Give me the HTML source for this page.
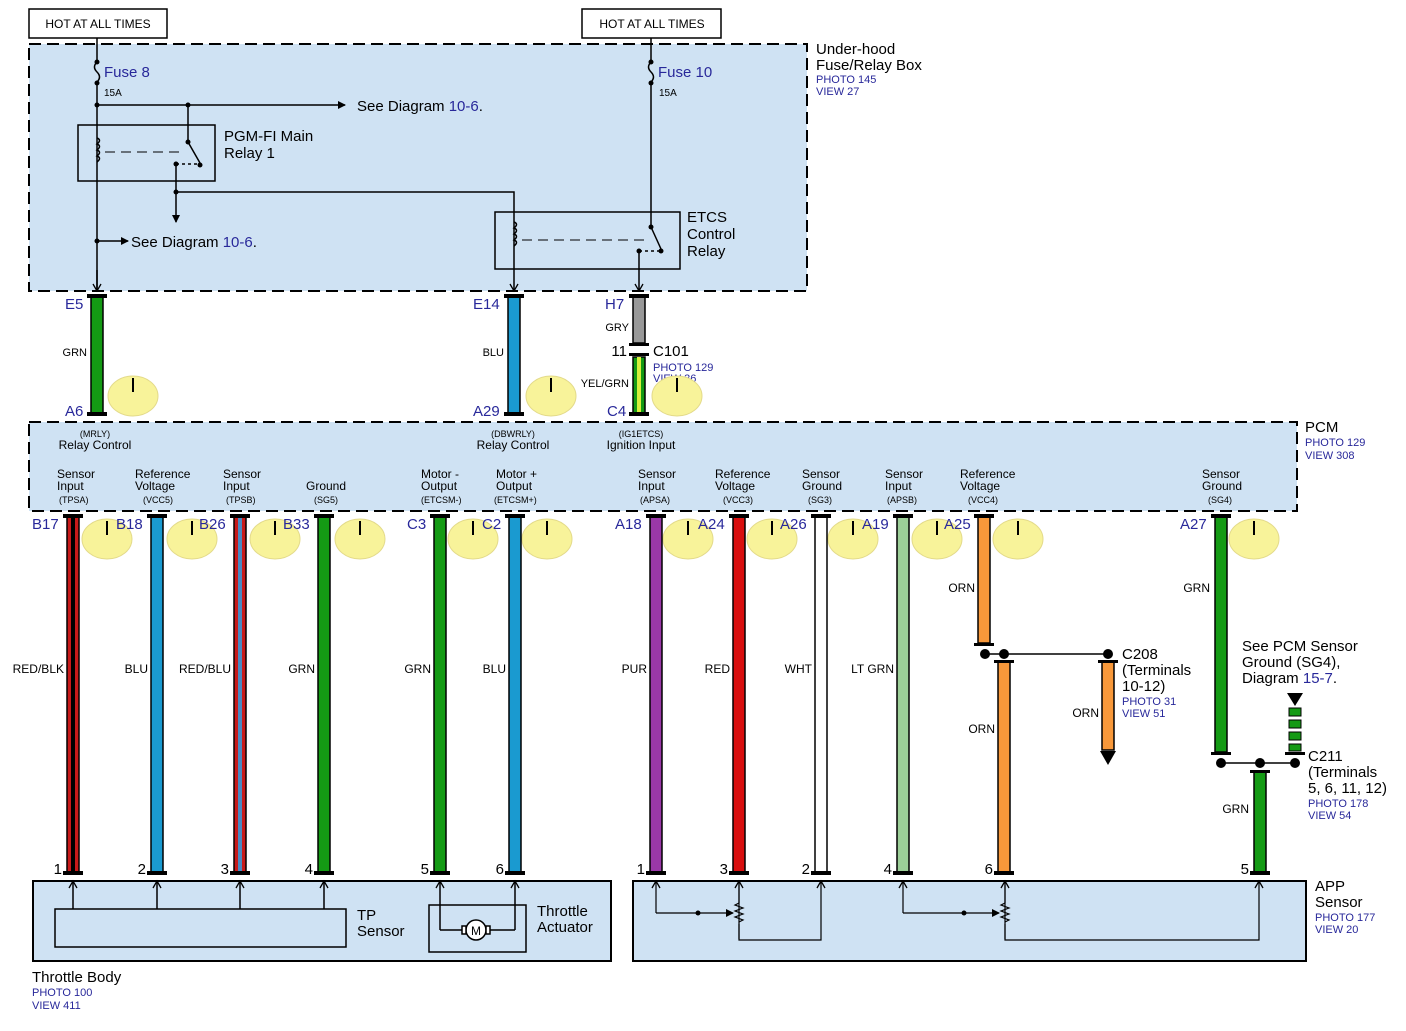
<!DOCTYPE html>
<html><head><meta charset="utf-8"><style>
html,body{margin:0;padding:0;background:#fff}
svg{display:block;font-family:"Liberation Sans",sans-serif}
.b{fill:#28289a}
</style></head><body>
<svg width="1406" height="1031" viewBox="0 0 1406 1031" xmlns="http://www.w3.org/2000/svg">
<defs>
<marker id="ar" markerWidth="8" markerHeight="8" refX="7" refY="4" orient="auto" markerUnits="userSpaceOnUse"><path d="M0,0 L8,4 L0,8 z" fill="#000"/></marker>
<marker id="ao" markerWidth="10" markerHeight="10" refX="8" refY="5" orient="auto" markerUnits="userSpaceOnUse"><path d="M1,1 L8,5 L1,9" fill="none" stroke="#000" stroke-width="1.3"/></marker>
</defs>

<rect x="29" y="9" width="138" height="29" fill="#fff" stroke="#000" stroke-width="1.5"/>
<text x="98" y="28" font-size="12" text-anchor="middle">HOT AT ALL TIMES</text>
<rect x="582" y="9" width="139" height="29" fill="#fff" stroke="#000" stroke-width="1.5"/>
<text x="652" y="28" font-size="12" text-anchor="middle">HOT AT ALL TIMES</text>

<rect x="29" y="44" width="778" height="247" fill="#cfe2f3" stroke="#000" stroke-width="2" stroke-dasharray="12,6"/>
<text x="816" y="54" font-size="15">Under-hood</text>
<text x="816" y="70" font-size="15">Fuse/Relay Box</text>
<text x="816" y="83" font-size="11" class="b">PHOTO 145</text>
<text x="816" y="95" font-size="11" class="b">VIEW 27</text>

<g stroke="#000" stroke-width="1.5" fill="none">
<path d="M97 38 V62 M97 62 q-5 5 0 10 q5 5 0 10 M97 82 V289"/>
<path d="M97 105 H345" marker-end="url(#ar)"/>
<path d="M188 105 V142"/>
<path d="M188 142 L200 163"/>
<path d="M176 164 H200" stroke-dasharray="3,3"/>
<path d="M176 164 V222" marker-end="url(#ar)"/>
<path d="M176 192 H514 V291" marker-end="url(#ao)"/>
<path d="M97 241 H128" marker-end="url(#ar)"/>
<path d="M97 270 V291" marker-end="url(#ao)"/>
<rect x="78" y="125" width="137" height="56"/>
<path d="M97 138 q5 2 0 6 q5 2 0 6 q5 2 0 6 q5 2 0 6" />
<path d="M105 152 H185" stroke-dasharray="10,6" stroke-width="1"/>
<path d="M651 38 V62 M651 62 q-5 5 0 10 q5 5 0 10 M651 82 V227"/>
<path d="M651 227 L661 249"/>
<path d="M639 251 H661" stroke-dasharray="3,3"/>
<path d="M639 251 V291" marker-end="url(#ao)"/>
<rect x="495" y="212" width="185" height="57"/>
<path d="M514 222 q5 2 0 6 q5 2 0 6 q5 2 0 6 q5 2 0 6"/>
<path d="M522 240 H650" stroke-dasharray="10,6" stroke-width="1"/>
</g>
<g fill="#000">
<circle cx="97" cy="62" r="2.5"/><circle cx="97" cy="83" r="2.5"/><circle cx="97" cy="105" r="2.5"/><circle cx="188" cy="105" r="2.5"/>
<circle cx="188" cy="142" r="2.5"/><circle cx="200" cy="165" r="2.5"/><circle cx="176" cy="164" r="2.5"/><circle cx="176" cy="192" r="2.5"/><circle cx="97" cy="241" r="2.5"/>
<circle cx="651" cy="62" r="2.5"/><circle cx="651" cy="83" r="2.5"/><circle cx="651" cy="227" r="2.5"/><circle cx="661" cy="251" r="2.5"/><circle cx="639" cy="251" r="2.5"/>
</g>
<text x="104" y="77" font-size="15" class="b">Fuse 8</text>
<text x="104" y="96" font-size="10">15A</text>
<text x="658" y="77" font-size="15" class="b">Fuse 10</text>
<text x="659" y="96" font-size="10">15A</text>
<text x="357" y="111" font-size="15">See Diagram <tspan class="b">10-6</tspan>.</text>
<text x="131" y="247" font-size="15">See Diagram <tspan class="b">10-6</tspan>.</text>
<text x="224" y="141" font-size="15">PGM-FI Main</text>
<text x="224" y="158" font-size="15">Relay 1</text>
<text x="687" y="222" font-size="15">ETCS</text>
<text x="687" y="239" font-size="15">Control</text>
<text x="687" y="256" font-size="15">Relay</text>

<g stroke="#000" stroke-width="1.5">
<rect x="91" y="297" width="12" height="117" fill="#149a14"/>
<rect x="508" y="297" width="12" height="117" fill="#1a9ad0"/>
<rect x="633" y="297" width="12" height="46" fill="#999"/>
<rect x="633" y="357" width="12" height="57" fill="#149a14"/>
</g>
<rect x="637" y="357" width="4" height="57" fill="#d8ef3c"/>
<g fill="#000">
<rect x="87" y="294" width="20" height="4"/><rect x="87" y="412" width="20" height="4"/>
<rect x="504" y="294" width="20" height="4"/><rect x="504" y="412" width="20" height="4"/>
<rect x="629" y="294" width="20" height="4"/><rect x="629" y="343" width="20" height="3"/><rect x="629" y="353" width="20" height="3"/><rect x="629" y="412" width="20" height="4"/>
</g>
<text x="65" y="309" font-size="15" class="b">E5</text>
<text x="473" y="309" font-size="15" class="b">E14</text>
<text x="605" y="309" font-size="15" class="b">H7</text>
<text x="65" y="416" font-size="15" class="b">A6</text>
<text x="473" y="416" font-size="15" class="b">A29</text>
<text x="607" y="416" font-size="15" class="b">C4</text>
<text x="87" y="356" font-size="11" text-anchor="end">GRN</text>
<text x="504" y="356" font-size="11" text-anchor="end">BLU</text>
<text x="629" y="331" font-size="11" text-anchor="end">GRY</text>
<text x="629" y="387" font-size="11" text-anchor="end">YEL/GRN</text>
<text x="627" y="356" font-size="15" text-anchor="end">11</text>
<text x="653" y="356" font-size="15">C101</text>
<text x="653" y="371" font-size="11" class="b">PHOTO 129</text>
<text x="653" y="382" font-size="11" class="b">VIEW 36</text>

<g fill="#f8f39a" stroke="#e3da8a">
<ellipse cx="133" cy="396" rx="25" ry="20"/><ellipse cx="551" cy="396" rx="25" ry="20"/><ellipse cx="677" cy="396" rx="25" ry="20"/>
<ellipse cx="107" cy="539" rx="25" ry="20"/><ellipse cx="192" cy="539" rx="25" ry="20"/><ellipse cx="275" cy="539" rx="25" ry="20"/><ellipse cx="360" cy="539" rx="25" ry="20"/>
<ellipse cx="473" cy="539" rx="25" ry="20"/><ellipse cx="547" cy="539" rx="25" ry="20"/>
<ellipse cx="688" cy="539" rx="25" ry="20"/><ellipse cx="772" cy="539" rx="25" ry="20"/><ellipse cx="853" cy="539" rx="25" ry="20"/><ellipse cx="937" cy="539" rx="25" ry="20"/><ellipse cx="1018" cy="539" rx="25" ry="20"/><ellipse cx="1254" cy="539" rx="25" ry="20"/>
</g>
<g stroke="#000" stroke-width="2">
<path d="M133 378 V392 M551 378 V392 M677 378 V392"/>
<path d="M107 521 V535 M192 521 V535 M275 521 V535 M360 521 V535 M473 521 V535 M547 521 V535 M688 521 V535 M772 521 V535 M853 521 V535 M937 521 V535 M1018 521 V535 M1254 521 V535"/>
</g>

<rect x="29" y="422" width="1268" height="89" fill="#cfe2f3" stroke="#000" stroke-width="2" stroke-dasharray="12,6"/>
<text x="1305" y="432" font-size="15">PCM</text>
<text x="1305" y="446" font-size="11" class="b">PHOTO 129</text>
<text x="1305" y="459" font-size="11" class="b">VIEW 308</text>
<g font-size="12" text-anchor="middle">
<text x="95" y="437" font-size="9">(MRLY)</text><text x="95" y="449">Relay Control</text>
<text x="513" y="437" font-size="9">(DBWRLY)</text><text x="513" y="449">Relay Control</text>
<text x="641" y="437" font-size="9">(IG1ETCS)</text><text x="641" y="449">Ignition Input</text>
</g>
<g font-size="12">
<text x="57" y="478">Sensor</text><text x="57" y="490">Input</text><text x="59" y="503" font-size="9">(TPSA)</text>
<text x="135" y="478">Reference</text><text x="135" y="490">Voltage</text><text x="143" y="503" font-size="9">(VCC5)</text>
<text x="223" y="478">Sensor</text><text x="223" y="490">Input</text><text x="226" y="503" font-size="9">(TPSB)</text>
<text x="306" y="490">Ground</text><text x="314" y="503" font-size="9">(SG5)</text>
<text x="421" y="478">Motor -</text><text x="421" y="490">Output</text><text x="421" y="503" font-size="9">(ETCSM-)</text>
<text x="496" y="478">Motor +</text><text x="496" y="490">Output</text><text x="494" y="503" font-size="9">(ETCSM+)</text>
<text x="638" y="478">Sensor</text><text x="638" y="490">Input</text><text x="640" y="503" font-size="9">(APSA)</text>
<text x="715" y="478">Reference</text><text x="715" y="490">Voltage</text><text x="723" y="503" font-size="9">(VCC3)</text>
<text x="802" y="478">Sensor</text><text x="802" y="490">Ground</text><text x="808" y="503" font-size="9">(SG3)</text>
<text x="885" y="478">Sensor</text><text x="885" y="490">Input</text><text x="887" y="503" font-size="9">(APSB)</text>
<text x="960" y="478">Reference</text><text x="960" y="490">Voltage</text><text x="968" y="503" font-size="9">(VCC4)</text>
<text x="1202" y="478">Sensor</text><text x="1202" y="490">Ground</text><text x="1208" y="503" font-size="9">(SG4)</text>
</g>

<g stroke="#000" stroke-width="1.5">
<rect x="67" y="517" width="12" height="355" fill="#c81a1a"/>
<rect x="151" y="517" width="12" height="355" fill="#1a9ad0"/>
<rect x="234" y="517" width="12" height="355" fill="#c81a1a"/>
<rect x="318" y="517" width="12" height="355" fill="#149a14"/>
<rect x="434" y="517" width="12" height="355" fill="#149a14"/>
<rect x="509" y="517" width="12" height="355" fill="#1a9ad0"/>
<rect x="650" y="517" width="12" height="355" fill="#9a38a8"/>
<rect x="733" y="517" width="12" height="355" fill="#d80e0e"/>
<rect x="815" y="517" width="12" height="355" fill="#fff"/>
<rect x="897" y="517" width="12" height="355" fill="#9ccf98"/>
<rect x="978" y="517" width="12" height="126" fill="#f8983a"/>
<rect x="998" y="662" width="12" height="210" fill="#f8983a"/>
<rect x="1102" y="662" width="12" height="88" fill="#f8983a"/>
<rect x="1215" y="517" width="12" height="235" fill="#149a14"/>
<rect x="1254" y="772" width="12" height="100" fill="#149a14"/>
</g>
<rect x="71" y="518" width="4" height="353" fill="#000"/>
<rect x="238" y="518" width="4" height="353" fill="#4a88c0"/>
<g fill="#149a14" stroke="#000" stroke-width="1">
<rect x="1289" y="708" width="12" height="8"/><rect x="1289" y="720" width="12" height="8"/><rect x="1289" y="732" width="12" height="8"/><rect x="1289" y="744" width="12" height="7"/>
</g>
<path d="M1287 693 H1303 L1295 706 z" fill="#000"/>
<path d="M1100 751 H1116 L1108 765 z" fill="#000"/>
<g fill="#000">
<rect x="63" y="514" width="20" height="4"/><rect x="147" y="514" width="20" height="4"/><rect x="230" y="514" width="20" height="4"/><rect x="314" y="514" width="20" height="4"/>
<rect x="430" y="514" width="20" height="4"/><rect x="505" y="514" width="20" height="4"/><rect x="646" y="514" width="20" height="4"/><rect x="729" y="514" width="20" height="4"/>
<rect x="811" y="514" width="20" height="4"/><rect x="893" y="514" width="20" height="4"/><rect x="974" y="514" width="20" height="4"/><rect x="1211" y="514" width="20" height="4"/>
<rect x="63" y="871" width="20" height="4"/><rect x="147" y="871" width="20" height="4"/><rect x="230" y="871" width="20" height="4"/><rect x="314" y="871" width="20" height="4"/>
<rect x="430" y="871" width="20" height="4"/><rect x="505" y="871" width="20" height="4"/><rect x="646" y="871" width="20" height="4"/><rect x="729" y="871" width="20" height="4"/>
<rect x="811" y="871" width="20" height="4"/><rect x="893" y="871" width="20" height="4"/><rect x="994" y="871" width="20" height="4"/><rect x="1250" y="871" width="20" height="4"/>
<rect x="974" y="643" width="20" height="3"/><rect x="994" y="660" width="20" height="3"/><rect x="1098" y="660" width="20" height="3"/>
<rect x="1211" y="752" width="20" height="3"/><rect x="1250" y="770" width="20" height="3"/><rect x="1285" y="752" width="20" height="3"/>
<circle cx="985" cy="654" r="5"/><circle cx="1004" cy="654" r="5"/><circle cx="1108" cy="654" r="5"/>
<circle cx="1221" cy="763" r="5"/><circle cx="1260" cy="763" r="5"/><circle cx="1295" cy="763" r="5"/>
</g>
<path d="M985 654 H1108 M1221 763 H1295" stroke="#000" stroke-width="1.5"/>

<g font-size="15" class="b">
<text x="32" y="529">B17</text><text x="116" y="529">B18</text><text x="199" y="529">B26</text><text x="283" y="529">B33</text>
<text x="407" y="529">C3</text><text x="482" y="529">C2</text><text x="615" y="529">A18</text><text x="698" y="529">A24</text>
<text x="780" y="529">A26</text><text x="862" y="529">A19</text><text x="944" y="529">A25</text><text x="1180" y="529">A27</text>
</g>
<g font-size="12" text-anchor="end">
<text x="64" y="673">RED/BLK</text><text x="148" y="673">BLU</text><text x="231" y="673">RED/BLU</text><text x="315" y="673">GRN</text>
<text x="431" y="673">GRN</text><text x="506" y="673">BLU</text><text x="647" y="673">PUR</text><text x="730" y="673">RED</text>
<text x="812" y="673">WHT</text><text x="894" y="673">LT GRN</text><text x="975" y="592">ORN</text><text x="995" y="733">ORN</text>
<text x="1099" y="717">ORN</text><text x="1210" y="592">GRN</text><text x="1249" y="813">GRN</text>
</g>
<text x="1122" y="659" font-size="15">C208</text>
<text x="1122" y="675" font-size="15">(Terminals</text>
<text x="1122" y="691" font-size="15">10-12)</text>
<text x="1122" y="705" font-size="11" class="b">PHOTO 31</text>
<text x="1122" y="717" font-size="11" class="b">VIEW 51</text>
<text x="1242" y="651" font-size="15">See PCM Sensor</text>
<text x="1242" y="667" font-size="15">Ground (SG4),</text>
<text x="1242" y="683" font-size="15">Diagram <tspan class="b">15-7</tspan>.</text>
<text x="1308" y="761" font-size="15">C211</text>
<text x="1308" y="777" font-size="15">(Terminals</text>
<text x="1308" y="793" font-size="15">5, 6, 11, 12)</text>
<text x="1308" y="807" font-size="11" class="b">PHOTO 178</text>
<text x="1308" y="819" font-size="11" class="b">VIEW 54</text>

<g font-size="15" text-anchor="end">
<text x="62" y="874">1</text><text x="146" y="874">2</text><text x="229" y="874">3</text><text x="313" y="874">4</text>
<text x="429" y="874">5</text><text x="504" y="874">6</text><text x="645" y="874">1</text><text x="728" y="874">3</text>
<text x="810" y="874">2</text><text x="892" y="874">4</text><text x="993" y="874">6</text><text x="1249" y="874">5</text>
</g>

<rect x="33" y="881" width="578" height="80" fill="#cfe2f3" stroke="#000" stroke-width="2"/>
<g stroke="#000" stroke-width="1.5" fill="none">
<rect x="55" y="909" width="291" height="38"/>
<path d="M73 909 V881" marker-end="url(#ao)"/><path d="M157 909 V881" marker-end="url(#ao)"/><path d="M240 909 V881" marker-end="url(#ao)"/><path d="M324 909 V881" marker-end="url(#ao)"/>
<rect x="429" y="905" width="97" height="47"/>
<path d="M440 930 V881" marker-end="url(#ao)"/><path d="M515 930 V881" marker-end="url(#ao)"/>
<path d="M440 930 H462 M490 930 H515"/>
<circle cx="476" cy="930" r="10" fill="#fff"/>
<rect x="462" y="926" width="4" height="8" fill="#fff"/><rect x="486" y="926" width="4" height="8" fill="#fff"/>
</g>
<text x="476" y="935" font-size="12" text-anchor="middle">M</text>
<text x="357" y="920" font-size="15">TP</text>
<text x="357" y="936" font-size="15">Sensor</text>
<text x="537" y="916" font-size="15">Throttle</text>
<text x="537" y="932" font-size="15">Actuator</text>
<text x="32" y="982" font-size="15">Throttle Body</text>
<text x="32" y="996" font-size="11" class="b">PHOTO 100</text>
<text x="32" y="1009" font-size="11" class="b">VIEW 411</text>

<rect x="633" y="881" width="673" height="80" fill="#cfe2f3" stroke="#000" stroke-width="2"/>
<g stroke="#000" stroke-width="1.2" fill="none">
<path d="M656 913 V881" marker-end="url(#ao)"/>
<path d="M656 913 H733" marker-end="url(#ar)"/>
<path d="M739 939 V881" marker-end="url(#ao)"/>
<path d="M739 903 l-4 2 l8 3 l-8 3 l8 3 l-8 3 l8 3 l-4 2"/>
<path d="M739 924 V940 H821 V881" marker-end="url(#ao)"/>
<path d="M739 881 V903"/>
<path d="M903 913 V881" marker-end="url(#ao)"/>
<path d="M903 913 H999" marker-end="url(#ar)"/>
<path d="M1005 903 l-4 2 l8 3 l-8 3 l8 3 l-8 3 l8 3 l-4 2"/>
<path d="M1005 881 V903"/>
<path d="M1005 939 V881" marker-end="url(#ao)"/>
<path d="M1005 924 V940 H1259 V881" marker-end="url(#ao)"/>
</g>
<circle cx="698" cy="913" r="2.5"/><circle cx="964" cy="913" r="2.5"/>
<text x="1315" y="891" font-size="15">APP</text>
<text x="1315" y="907" font-size="15">Sensor</text>
<text x="1315" y="921" font-size="11" class="b">PHOTO 177</text>
<text x="1315" y="933" font-size="11" class="b">VIEW 20</text>
</svg>
</body></html>
